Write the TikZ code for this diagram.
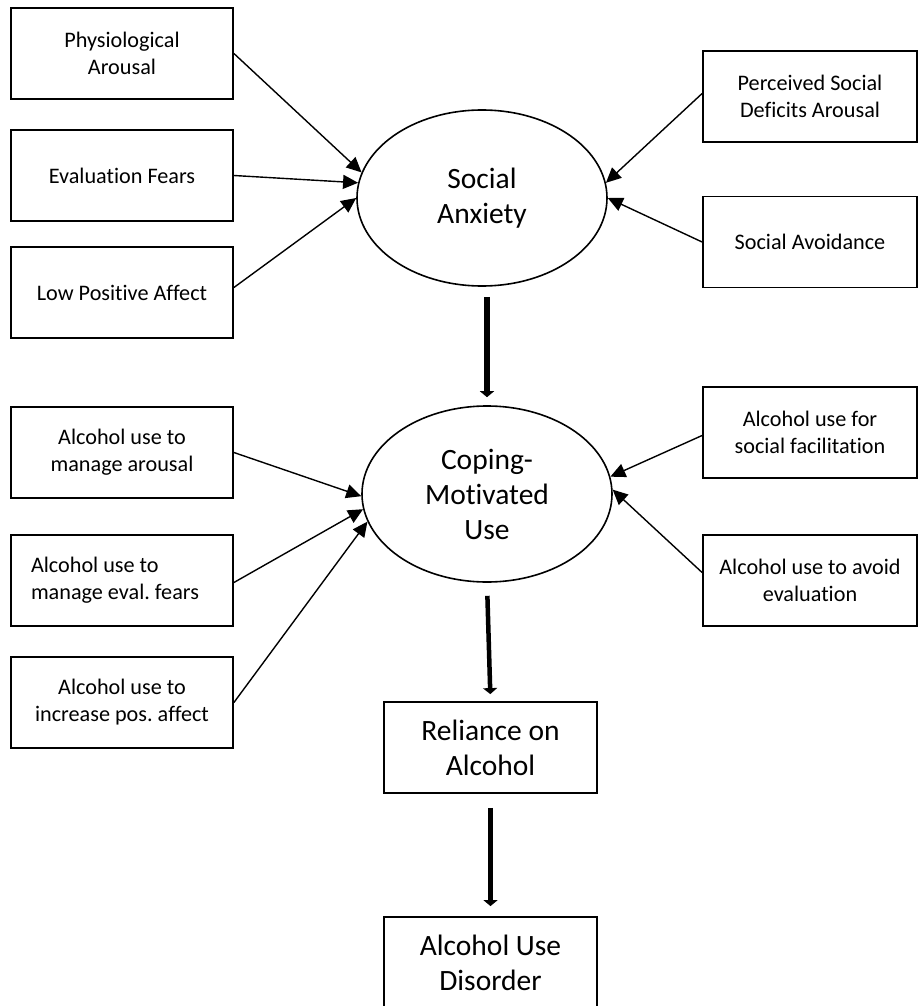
\documentclass[tikz,border=0pt]{standalone}
\usepackage{fontspec}
\setmainfont{Carlito}[RawFeature=-liga]
\frenchspacing
\usetikzlibrary{shapes.geometric, arrows.meta, positioning}

\begin{document}
\begin{tikzpicture}[x=1pt, y=-1pt,
    box/.style={draw, line width=1.8pt, minimum width=222pt, minimum height=91pt,
      inner sep=0pt, align=center, font=\fontsize{22.2}{27}\selectfont},
    rbox/.style={box, minimum width=214pt},
    mbox/.style={box, minimum width=213pt, font=\fontsize{29.5}{35}\selectfont},
    latent/.style={draw, ellipse, line width=1.6pt, minimum width=250pt,
      minimum height=176pt, inner sep=0pt, align=center,
      font=\fontsize{29.5}{35}\selectfont},
    link/.style={line width=1.4pt, -{Triangle[length=15pt,width=14pt]}},
    fat/.style={line width=5.5pt, -{Triangle[length=6pt,width=14pt]}}]
    \useasboundingbox (0,0) rectangle (919,1006);

    % Social anxiety and its indicators
    \node[latent] (sa) at (482,198) {Social\\Anxiety};
    \node[box] (physio) at (122,53.5) {Physiological\\Arousal};
    \node[box] (evalfear) at (122,175.5) {Evaluation Fears};
    \node[box] (lowpos) at (122,292.5) {Low Positive Affect};
    \node[rbox] (deficit) at (810,96.5) {Perceived Social\\Deficits Arousal};
    \node[rbox] (avoid) at (810,242) {Social Avoidance};

    \draw[link] (physio.east) -- (sa.168);
    \draw[link] (evalfear.east) -- (sa.173);
    \draw[link] ([yshift=5pt]lowpos.east) -- (sa.180);
    \draw[link] ([yshift=3pt]deficit.west) -- (sa.7);
    \draw[link] (avoid.west) -- (sa.0);

    % Coping motives
    \node[latent] (cmu) at (487,494) {Coping-\\Motivated\\Use};
    \node[box] (manarousal) at (122,452.5) {Alcohol use to\\manage arousal};
    \node[box, text width=182pt, align=flush left] (manfear) at (122,580.5) {Alcohol use to\\manage eval. fears};
    \node[box] (incpos) at (122,702.5) {Alcohol use to\\increase pos. affect};
    \node[rbox] (facil) at (810,432.5) {Alcohol use for\\social facilitation};
    \node[rbox] (avoideval) at (810,580.5) {Alcohol use to avoid\\evaluation};

    \draw[link] (manarousal.east) -- (cmu.181);
    \draw[link] ([yshift=-2pt]manfear.east) -- (cmu.187);
    \draw[link] (incpos.east) -- (cmu.193);
    \draw[link] ([yshift=-3pt]facil.west) -- (cmu.8);
    \draw[link] ([yshift=8pt]avoideval.west) -- (cmu.2);

    % Outcomes
    \node[mbox] (reliance) at (490.5,747.5) {Reliance on\\Alcohol};
    \node[mbox] (aud) at (490.5,962.5) {Alcohol Use\\Disorder};

    \draw[fat, shorten <=10pt, shorten >=8pt] (sa.south -| cmu.north) -- (cmu.north);
    \draw[fat, line width=4.5pt, shorten <=13pt, shorten >=7pt] (cmu.south) -- (reliance.north);
    \draw[fat, shorten <=14pt, shorten >=10pt] (reliance.south) -- (aud.north);
\end{tikzpicture}
\end{document}
